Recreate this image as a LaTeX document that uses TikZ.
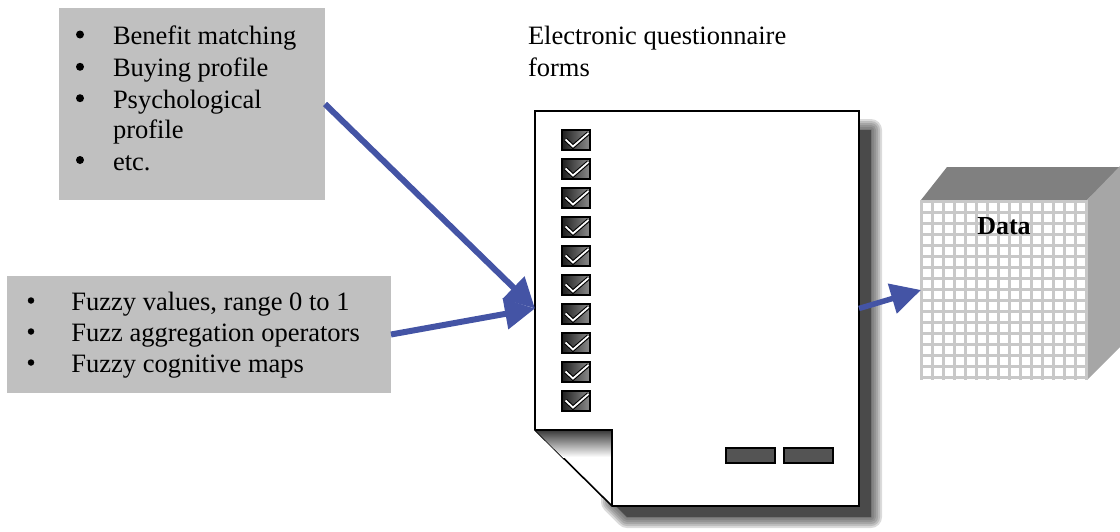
\documentclass[tikz,border=0pt]{standalone}
\usepackage{fontspec}
\setmainfont{Liberation Serif}
\usetikzlibrary{arrows.meta}
\definecolor{boxgray}{RGB}{192,192,192}
\definecolor{arrowblue}{RGB}{68,84,165}
\definecolor{gridgray}{RGB}{200,200,200}
\definecolor{topgray}{RGB}{128,128,128}
\definecolor{sidegray}{RGB}{166,166,166}
\definecolor{shadowgray}{RGB}{74,74,74}
\begin{document}
\begin{tikzpicture}[x=1pt,y=-1pt,
  every node/.style={inner sep=0pt, outer sep=0pt},
  txt/.style={anchor=base west, font=\fontsize{26.5}{31}\selectfont},
  bigdot/.style={circle, fill=black, minimum size=8pt},
  smalldot/.style={circle, fill=black, minimum size=6.5pt},
  graybox/.style={fill=boxgray, anchor=north west},
  arr/.style={draw=arrowblue, line width=6pt, -{Triangle[length=30pt,width=30pt]}},
  shpath/.style={insert path={(612,130) -- (871,130) -- (871,517) -- (627,517) -- (612,502) -- cycle}}]
\useasboundingbox (0,0) rectangle (1120,531);

% gray boxes
\node[graybox, minimum width=266pt, minimum height=192pt] (feat) at (59,8) {};
\node[graybox, minimum width=384pt, minimum height=117pt] (fuzzy) at (7,276) {};

\node[bigdot] (fb1) at (80,34.5) {};
\node[bigdot] (fb2) at (80,66.8) {};
\node[bigdot] (fb3) at (80,98.2) {};
\node[bigdot] (fb4) at (80,160) {};
\node[txt] (ft1) at (113,44.5) {Benefit matching};
\node[txt] (ft2) at (113,76.8) {Buying profile};
\node[txt] (ft3) at (113,108.2) {Psychological};
\node[txt] (ft3b) at (113,138.5) {profile};
\node[txt] (ft4) at (113,170) {etc.};

\node[smalldot] (zb1) at (31,300.5) {};
\node[smalldot] (zb2) at (31,331.5) {};
\node[smalldot] (zb3) at (31,362.5) {};
\node[txt] (zt1) at (71.4,310) {Fuzzy values, range 0 to 1};
\node[txt] (zt2) at (71.4,341) {Fuzz aggregation operators};
\node[txt] (zt3) at (71.4,372) {Fuzzy cognitive maps};

% title
\node[txt] (title1) at (528,44) {Electronic questionnaire};
\node[txt] (title2) at (528,76) {forms};

% page shadow
\foreach \w in {22,18,14,10,6,2} {\draw[shadowgray, line width=\w pt, draw opacity=0.2, line join=round, shpath];}
\fill[shadowgray, shpath];

% page
\node[minimum width=324pt, minimum height=395pt, anchor=north west] (form) at (535,111) {};
\draw[fill=white, line width=1.6pt, line join=miter] (form.north west) -- (form.north east) -- (form.south east) -- (612,506) -- (535,430) -- cycle;
\begin{scope}
\clip (535,430) -- (612,430) -- (612,506) -- cycle;
\shade[top color=black!78, bottom color=white] (535,430) rectangle (612,457);
\end{scope}
\draw[line width=1.6pt, line join=miter] (535,430) -- (612,430) -- (612,506);

% checkboxes
\foreach \i in {0,...,9} {
  \pgfmathsetmacro\yy{130+29*\i}
  \shadedraw[left color=black!88, right color=black!45, draw=black, line width=1.3pt] (562,\yy) rectangle (590,\yy+20);
  \draw[black, line width=4pt, line join=miter] (565.5,\yy+9.5) -- (573,\yy+16.5) -- (588.5,\yy+3);
  \draw[white, line width=1.8pt, line join=miter] (565.5,\yy+9.5) -- (573,\yy+16.5) -- (588.5,\yy+3);
}

% buttons
\draw[fill=black!67, line width=1.2pt] (726,448) rectangle (775,463);
\draw[fill=black!67, line width=1.2pt] (784,448) rectangle (833,463);

% data cube
\fill[topgray] (921,200) -- (947,167) -- (1122,167) -- (1087,200) -- cycle;
\fill[sidegray] (1087,200) -- (1122,164) -- (1122,345) -- (1087,380) -- cycle;
\node[minimum width=166pt, minimum height=180pt, anchor=north west, fill=white] (data) at (921,200) {};
\foreach \k in {0,...,15} {\draw[gridgray, line width=2.7pt] (921.3+11*\k,200) -- (921.3+11*\k,380);}
\foreach \k in {0,...,16} {\draw[gridgray, line width=2.7pt] (921,201.2+11*\k) -- (1087,201.2+11*\k);}
\node[anchor=base, font=\fontsize{26}{31}\selectfont\bfseries] (datalbl) at (1004,234) {Data};

% arrows
\draw[arr] (feat.east) -- (form.west);
\draw[arr] (fuzzy.east) -- (form.west);
\draw[arr, line width=5.5pt] (form.east) -- (data.west);
\end{tikzpicture}
\end{document}
